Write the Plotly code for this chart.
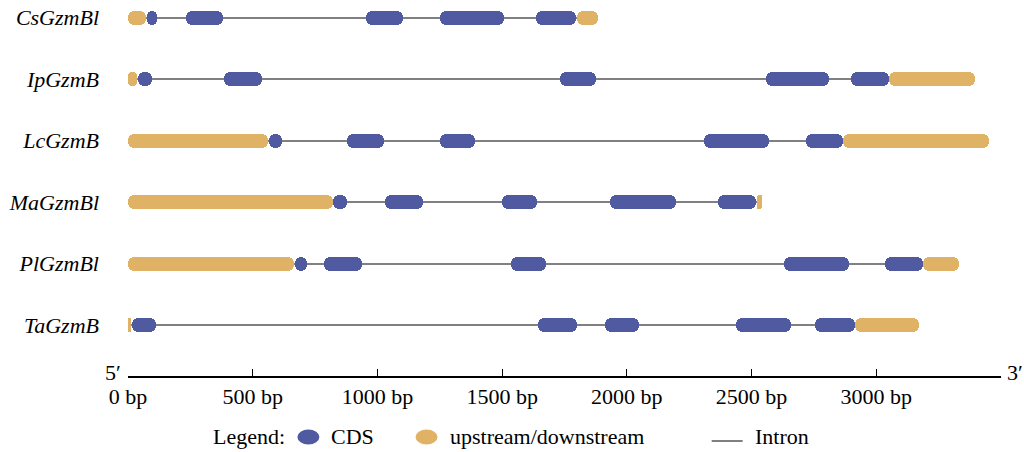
import plotly.graph_objects as go

# ---------------- data (bp) ----------------
genes = ["CsGzmBl", "IpGzmB", "LcGzmB", "MaGzmBl", "PlGzmBl", "TaGzmB"]

cs_utr = [(0, 71), (1800, 1883)]
cs_cds = [(75, 116), (231, 380), (953, 1101), (1250, 1508), (1634, 1798)]

ip_utr = [(0, 37), (3051, 3395)]
ip_cds = [(41, 95), (385, 537), (1733, 1875), (2556, 2810), (2898, 3051)]

lc_utr = [(0, 562), (2867, 3452)]
lc_cds = [(565, 616), (879, 1027), (1250, 1391), (2310, 2570), (2717, 2867)]

ma_utr = [(0, 820), (2520, 2542)]
ma_cds = [(820, 877), (1030, 1181), (1500, 1638), (1932, 2195), (2366, 2517)]

pl_utr = [(0, 665), (3188, 3331)]
pl_cds = [(669, 719), (787, 937), (1535, 1674), (2630, 2890), (3034, 3188)]

ta_utr = [(0, 12), (2914, 3172)]
ta_cds = [(15, 111), (1644, 1801), (1912, 2049), (2436, 2660), (2753, 2914)]

tick_vals = [0, 500, 1000, 1500, 2000, 2500, 3000, 3500]
tick_text = ["0 bp", "500 bp", "1000 bp", "1500 bp", "2000 bp", "2500 bp", "3000 bp", ""]
axis_max = 3500

utr_by_gene = [cs_utr, ip_utr, lc_utr, ma_utr, pl_utr, ta_utr]
cds_by_gene = [cs_cds, ip_cds, lc_cds, ma_cds, pl_cds, ta_cds]

# ---------------- style ----------------
BLUE = "#4F5AA0"
ORANGE = "#E0B266"
GREY = "#808080"
FONT = "Liberation Serif"
W, H = 1024, 452
PL, PR, PT, PB = 128, 1001.5, 0, 376
ROW0, ROWSTEP = 17.7, 61.48   # pixel centre of first row, spacing
BAR_PX = 14
LINE_PX = 2


def px(x):
    return (x - PL) / (PR - PL)


def py(y):
    return (PB - y) / (PB - PT)


fig = go.Figure()

# intron lines (gene span)
span_y, span_base, span_len = [], [], []
for g, utr, cds in zip(genes, utr_by_gene, cds_by_gene):
    segs = utr + cds
    s = min(a for a, b in segs)
    e = max(b for a, b in segs)
    span_y.append(g)
    span_base.append(s)
    span_len.append(e - s)
fig.add_trace(go.Bar(
    y=span_y, x=span_len, base=span_base, orientation="h",
    width=LINE_PX / ROWSTEP, marker=dict(color=GREY, line=dict(width=0)),
    showlegend=False, hoverinfo="skip"))


def pill_trace(seg_lists, color):
    ys, bases, lens = [], [], []
    for g, segs in zip(genes, seg_lists):
        for a, b in segs:
            ys.append(g)
            bases.append(a)
            lens.append(b - a)
    return go.Bar(
        y=ys, x=lens, base=bases, orientation="h",
        width=BAR_PX / ROWSTEP,
        marker=dict(color=color, cornerradius=6, line=dict(width=0)),
        showlegend=False, hoverinfo="skip")


fig.add_trace(pill_trace(utr_by_gene, ORANGE))
fig.add_trace(pill_trace(cds_by_gene, BLUE))

yr_bottom = (PB - ROW0) / ROWSTEP
yr_top = (PT - ROW0) / ROWSTEP

fig.update_layout(
    width=W, height=H,
    margin=dict(l=PL, r=W - PR, t=PT, b=H - PB, pad=0, autoexpand=False),
    paper_bgcolor="white", plot_bgcolor="white",
    barmode="overlay", bargap=0,
    font=dict(family=FONT, color="black"),
    xaxis=dict(
        range=[0, axis_max], showgrid=False, zeroline=False,
        showline=True, linecolor="black", linewidth=1.5,
        ticks="inside", ticklen=7, tickwidth=1, tickcolor="black",
        tickvals=tick_vals, ticktext=tick_text,
        tickfont=dict(family=FONT, size=22, color="black"),
        ticklabelstandoff=0,
    ),
    yaxis=dict(
        type="category", categoryorder="array", categoryarray=genes,
        range=[yr_bottom, yr_top], showgrid=False, zeroline=False,
        showline=False, ticks="",
        tickfont=dict(family=FONT, size=22, color="black", style="italic"),
        ticklabelstandoff=28,
    ),
)

# 5' / 3' labels
fig.add_annotation(xref="paper", yref="paper", x=px(123), y=py(372), text="5′",
                   showarrow=False, xanchor="right", yanchor="middle",
                   font=dict(family=FONT, size=22, color="black"))
fig.add_annotation(xref="paper", yref="paper", x=px(1006), y=py(372), text="3′",
                   showarrow=False, xanchor="left", yanchor="middle",
                   font=dict(family=FONT, size=22, color="black"))

# legend (manual)
LEG_Y = 437
legend_texts = [("Legend:", 211), ("CDS", 329), ("upstream/downstream", 448), ("Intron", 753)]
for t, x0 in legend_texts:
    fig.add_annotation(xref="paper", yref="paper", x=px(x0), y=py(LEG_Y), text=t,
                       showarrow=False, xanchor="left", yanchor="middle",
                       font=dict(family=FONT, size=22, color="black"))

for cx, col in [(308.5, BLUE), (426.7, ORANGE)]:
    fig.add_shape(type="circle", xref="paper", yref="paper",
                  xsizemode="pixel", ysizemode="pixel",
                  xanchor=px(cx), yanchor=py(LEG_Y),
                  x0=-11, x1=11, y0=-7.5, y1=7.5,
                  fillcolor=col, line=dict(width=0))
fig.add_shape(type="line", xref="paper", yref="paper",
              x0=px(712), x1=px(743), y0=py(LEG_Y + 4), y1=py(LEG_Y + 4),
              line=dict(color=GREY, width=2))

fig.write_html("out.html")
